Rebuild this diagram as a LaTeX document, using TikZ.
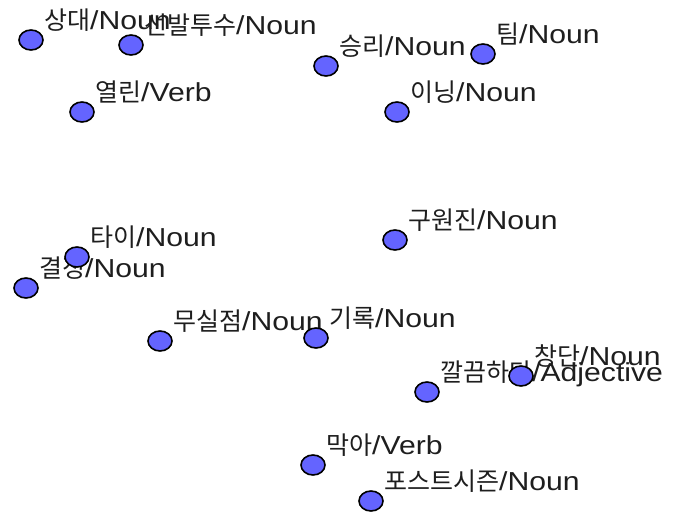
\documentclass[tikz,border=0pt]{standalone}
\usepackage{fontspec}
\usetikzlibrary{shapes.geometric}
\setmainfont{Liberation Sans}[FakeStretch=1.16]
\newfontfamily\kr{Noto Sans CJK KR}
\definecolor{dotblue}{RGB}{100,100,255}
\definecolor{txt}{RGB}{30,30,30}
\tikzset{
  dot/.style={ellipse, draw=black, line width=1.6pt, fill=dotblue, minimum width=24pt, minimum height=20pt, inner sep=0pt},
  lbl/.style={anchor=base west, inner sep=0pt, text=txt, font=\fontsize{26}{30}\selectfont},
}
\newcommand{\K}[1]{{\kr\fontsize{25}{28}\selectfont #1}}
\begin{document}
\begin{tikzpicture}[x=1pt,y=-1pt]
\useasboundingbox (0,0) rectangle (685,515);
\coordinate (c1) at (31,40);
\coordinate (c2) at (131,45);
\coordinate (c3) at (326,66);
\coordinate (c4) at (483,54);
\coordinate (c5) at (82,112);
\coordinate (c6) at (397,112);
\coordinate (c7) at (395,240);
\coordinate (c8) at (77,257);
\coordinate (c9) at (26,288);
\coordinate (c10) at (160,341);
\coordinate (c11) at (316,338);
\coordinate (c12) at (521,376);
\coordinate (c13) at (427,392);
\coordinate (c14) at (313,465);
\coordinate (c15) at (371,501);
% labels
\node[lbl] (l1) at ([shift={(13,-11)}]c1) {\K{상대}/Noun};
\node[lbl] (l2) at ([shift={(13,-11)}]c2) {\K{선발투수}/Noun};
\node[lbl] (l3) at ([shift={(13,-11)}]c3) {\K{승리}/Noun};
\node[lbl] (l4) at ([shift={(13,-11)}]c4) {\K{팀}/Noun};
\node[lbl] (l5) at ([shift={(13,-11)}]c5) {\K{열린}/Verb};
\node[lbl] (l6) at ([shift={(13,-11)}]c6) {\K{이닝}/Noun};
\node[lbl] (l7) at ([shift={(13,-11)}]c7) {\K{구원진}/Noun};
\node[lbl] (l8) at ([shift={(13,-11)}]c8) {\K{타이}/Noun};
\node[lbl] (l9) at ([shift={(13,-11)}]c9) {\K{결정}/Noun};
\node[lbl] (l10) at ([shift={(13,-11)}]c10) {\K{무실점}/Noun};
\node[lbl] (l11) at ([shift={(13,-11)}]c11) {\K{기록}/Noun};
\node[lbl] (l12) at ([shift={(13,-11)}]c12) {\K{창단}/Noun};
\node[lbl] (l13) at ([shift={(13,-11)}]c13) {\K{깔끔하다}/Adjective};
\node[lbl] (l14) at ([shift={(13,-11)}]c14) {\K{막아}/Verb};
\node[lbl] (l15) at ([shift={(13,-11)}]c15) {\K{포스트시즌}/Noun};
% dots
\foreach \i in {1,...,15} \node[dot] (n\i) at (c\i) {};
\end{tikzpicture}
\end{document}
